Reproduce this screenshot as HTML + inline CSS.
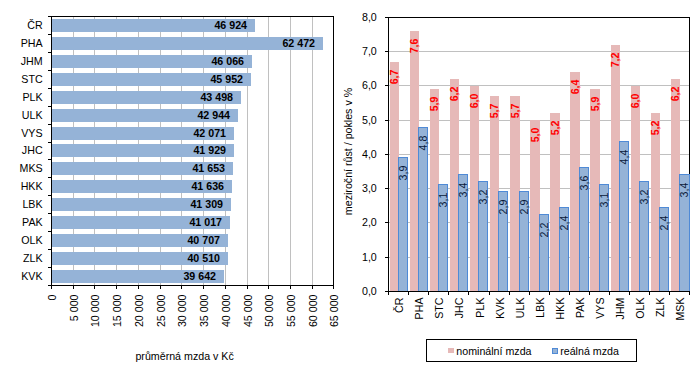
<!DOCTYPE html>
<html><head><meta charset="utf-8"><style>
html,body{margin:0;padding:0;background:#fff;}
body{width:697px;height:374px;overflow:hidden;}
svg{display:block;}
text{font-family:"Liberation Sans", sans-serif;font-size:10.67px;}
.r{fill:#000;}
.b{fill:#000;font-weight:bold;}
.bred{fill:#FF0000;font-weight:bold;}
.rnavy{fill:#0A1A3A;}
</style></head><body>
<svg width="697" height="374" viewBox="0 0 697 374">
<rect width="697" height="374" fill="#fff"/>
<rect x="73" y="16" width="1" height="269" fill="#C0C0C0"/>
<rect x="94" y="16" width="1" height="269" fill="#C0C0C0"/>
<rect x="116" y="16" width="1" height="269" fill="#C0C0C0"/>
<rect x="138" y="16" width="1" height="269" fill="#C0C0C0"/>
<rect x="160" y="16" width="1" height="269" fill="#C0C0C0"/>
<rect x="181" y="16" width="1" height="269" fill="#C0C0C0"/>
<rect x="203" y="16" width="1" height="269" fill="#C0C0C0"/>
<rect x="225" y="16" width="1" height="269" fill="#C0C0C0"/>
<rect x="247" y="16" width="1" height="269" fill="#C0C0C0"/>
<rect x="268" y="16" width="1" height="269" fill="#C0C0C0"/>
<rect x="290" y="16" width="1" height="269" fill="#C0C0C0"/>
<rect x="312" y="16" width="1" height="269" fill="#C0C0C0"/>
<rect x="52" y="19" width="203" height="13" fill="#95B3D7"/>
<text x="247.00" y="29.20" text-anchor="end" class="b">46 924</text>
<text x="42.6" y="29.20" text-anchor="end" class="r">ČR</text>
<rect x="52" y="37" width="271" height="13" fill="#95B3D7"/>
<text x="315.00" y="47.20" text-anchor="end" class="b">62 472</text>
<text x="42.6" y="47.20" text-anchor="end" class="r">PHA</text>
<rect x="52" y="55" width="200" height="13" fill="#95B3D7"/>
<text x="244.00" y="65.20" text-anchor="end" class="b">46 066</text>
<text x="42.6" y="65.20" text-anchor="end" class="r">JHM</text>
<rect x="52" y="73" width="199" height="13" fill="#95B3D7"/>
<text x="243.00" y="83.20" text-anchor="end" class="b">45 952</text>
<text x="42.6" y="83.20" text-anchor="end" class="r">STC</text>
<rect x="52" y="91" width="189" height="13" fill="#95B3D7"/>
<text x="233.00" y="101.20" text-anchor="end" class="b">43 498</text>
<text x="42.6" y="101.20" text-anchor="end" class="r">PLK</text>
<rect x="52" y="109" width="186" height="13" fill="#95B3D7"/>
<text x="230.00" y="119.20" text-anchor="end" class="b">42 944</text>
<text x="42.6" y="119.20" text-anchor="end" class="r">ULK</text>
<rect x="52" y="127" width="182" height="13" fill="#95B3D7"/>
<text x="226.00" y="137.20" text-anchor="end" class="b">42 071</text>
<text x="42.6" y="137.20" text-anchor="end" class="r">VYS</text>
<rect x="52" y="144" width="182" height="13" fill="#95B3D7"/>
<text x="226.00" y="154.20" text-anchor="end" class="b">41 929</text>
<text x="42.6" y="154.20" text-anchor="end" class="r">JHC</text>
<rect x="52" y="162" width="181" height="13" fill="#95B3D7"/>
<text x="225.00" y="172.20" text-anchor="end" class="b">41 653</text>
<text x="42.6" y="172.20" text-anchor="end" class="r">MKS</text>
<rect x="52" y="180" width="180" height="13" fill="#95B3D7"/>
<text x="224.00" y="190.20" text-anchor="end" class="b">41 636</text>
<text x="42.6" y="190.20" text-anchor="end" class="r">HKK</text>
<rect x="52" y="198" width="179" height="13" fill="#95B3D7"/>
<text x="223.00" y="208.20" text-anchor="end" class="b">41 309</text>
<text x="42.6" y="208.20" text-anchor="end" class="r">LBK</text>
<rect x="52" y="216" width="178" height="13" fill="#95B3D7"/>
<text x="222.00" y="226.20" text-anchor="end" class="b">41 017</text>
<text x="42.6" y="226.20" text-anchor="end" class="r">PAK</text>
<rect x="52" y="234" width="176" height="13" fill="#95B3D7"/>
<text x="220.00" y="244.20" text-anchor="end" class="b">40 707</text>
<text x="42.6" y="244.20" text-anchor="end" class="r">OLK</text>
<rect x="52" y="252" width="176" height="13" fill="#95B3D7"/>
<text x="220.00" y="262.20" text-anchor="end" class="b">40 510</text>
<text x="42.6" y="262.20" text-anchor="end" class="r">ZLK</text>
<rect x="52" y="270" width="172" height="13" fill="#95B3D7"/>
<text x="216.00" y="280.20" text-anchor="end" class="b">39 642</text>
<text x="42.6" y="280.20" text-anchor="end" class="r">KVK</text>
<rect x="51" y="16" width="283" height="1" fill="#000"/>
<rect x="333" y="16" width="1" height="270" fill="#000"/>
<rect x="51" y="285" width="283" height="1" fill="#000"/>
<rect x="51" y="16" width="1" height="270" fill="#000"/>
<rect x="48" y="16" width="3" height="1" fill="#000"/>
<rect x="48" y="34" width="3" height="1" fill="#000"/>
<rect x="48" y="52" width="3" height="1" fill="#000"/>
<rect x="48" y="70" width="3" height="1" fill="#000"/>
<rect x="48" y="88" width="3" height="1" fill="#000"/>
<rect x="48" y="106" width="3" height="1" fill="#000"/>
<rect x="48" y="124" width="3" height="1" fill="#000"/>
<rect x="48" y="142" width="3" height="1" fill="#000"/>
<rect x="48" y="159" width="3" height="1" fill="#000"/>
<rect x="48" y="177" width="3" height="1" fill="#000"/>
<rect x="48" y="195" width="3" height="1" fill="#000"/>
<rect x="48" y="213" width="3" height="1" fill="#000"/>
<rect x="48" y="231" width="3" height="1" fill="#000"/>
<rect x="48" y="249" width="3" height="1" fill="#000"/>
<rect x="48" y="267" width="3" height="1" fill="#000"/>
<rect x="48" y="285" width="3" height="1" fill="#000"/>
<rect x="51" y="285" width="1" height="4" fill="#000"/>
<text transform="translate(55.60,294.5) rotate(-90)" text-anchor="end" class="r">0</text>
<rect x="73" y="285" width="1" height="4" fill="#000"/>
<text transform="translate(77.60,294.5) rotate(-90)" text-anchor="end" class="r">5 000</text>
<rect x="94" y="285" width="1" height="4" fill="#000"/>
<text transform="translate(98.60,294.5) rotate(-90)" text-anchor="end" class="r">10 000</text>
<rect x="116" y="285" width="1" height="4" fill="#000"/>
<text transform="translate(120.60,294.5) rotate(-90)" text-anchor="end" class="r">15 000</text>
<rect x="138" y="285" width="1" height="4" fill="#000"/>
<text transform="translate(142.60,294.5) rotate(-90)" text-anchor="end" class="r">20 000</text>
<rect x="160" y="285" width="1" height="4" fill="#000"/>
<text transform="translate(164.60,294.5) rotate(-90)" text-anchor="end" class="r">25 000</text>
<rect x="181" y="285" width="1" height="4" fill="#000"/>
<text transform="translate(185.60,294.5) rotate(-90)" text-anchor="end" class="r">30 000</text>
<rect x="203" y="285" width="1" height="4" fill="#000"/>
<text transform="translate(207.60,294.5) rotate(-90)" text-anchor="end" class="r">35 000</text>
<rect x="225" y="285" width="1" height="4" fill="#000"/>
<text transform="translate(229.60,294.5) rotate(-90)" text-anchor="end" class="r">40 000</text>
<rect x="247" y="285" width="1" height="4" fill="#000"/>
<text transform="translate(251.60,294.5) rotate(-90)" text-anchor="end" class="r">45 000</text>
<rect x="268" y="285" width="1" height="4" fill="#000"/>
<text transform="translate(272.60,294.5) rotate(-90)" text-anchor="end" class="r">50 000</text>
<rect x="290" y="285" width="1" height="4" fill="#000"/>
<text transform="translate(294.60,294.5) rotate(-90)" text-anchor="end" class="r">55 000</text>
<rect x="312" y="285" width="1" height="4" fill="#000"/>
<text transform="translate(316.60,294.5) rotate(-90)" text-anchor="end" class="r">60 000</text>
<rect x="333" y="285" width="1" height="4" fill="#000"/>
<text transform="translate(337.60,294.5) rotate(-90)" text-anchor="end" class="r">65 000</text>
<text x="184.6" y="359.8" text-anchor="middle" class="r">průměrná mzda v Kč</text>
<rect x="388" y="257" width="301" height="1" fill="#C0C0C0"/>
<rect x="388" y="222" width="301" height="1" fill="#C0C0C0"/>
<rect x="388" y="188" width="301" height="1" fill="#C0C0C0"/>
<rect x="388" y="154" width="301" height="1" fill="#C0C0C0"/>
<rect x="388" y="120" width="301" height="1" fill="#C0C0C0"/>
<rect x="388" y="85" width="301" height="1" fill="#C0C0C0"/>
<rect x="388" y="51" width="301" height="1" fill="#C0C0C0"/>
<rect x="390" y="62" width="9" height="229" fill="#E6B9B8"/>
<rect x="398" y="157" width="10" height="134" fill="#4F8AD6"/>
<rect x="399" y="158" width="8" height="133" fill="#95B3D7"/>
<rect x="410" y="31" width="9" height="260" fill="#E6B9B8"/>
<rect x="418" y="127" width="10" height="164" fill="#4F8AD6"/>
<rect x="419" y="128" width="8" height="163" fill="#95B3D7"/>
<rect x="430" y="89" width="9" height="202" fill="#E6B9B8"/>
<rect x="438" y="184" width="10" height="107" fill="#4F8AD6"/>
<rect x="439" y="185" width="8" height="106" fill="#95B3D7"/>
<rect x="450" y="79" width="9" height="212" fill="#E6B9B8"/>
<rect x="458" y="174" width="10" height="117" fill="#4F8AD6"/>
<rect x="459" y="175" width="8" height="116" fill="#95B3D7"/>
<rect x="470" y="86" width="9" height="205" fill="#E6B9B8"/>
<rect x="478" y="181" width="10" height="110" fill="#4F8AD6"/>
<rect x="479" y="182" width="8" height="109" fill="#95B3D7"/>
<rect x="490" y="96" width="9" height="195" fill="#E6B9B8"/>
<rect x="498" y="191" width="10" height="100" fill="#4F8AD6"/>
<rect x="499" y="192" width="8" height="99" fill="#95B3D7"/>
<rect x="510" y="96" width="10" height="195" fill="#E6B9B8"/>
<rect x="519" y="191" width="10" height="100" fill="#4F8AD6"/>
<rect x="520" y="192" width="8" height="99" fill="#95B3D7"/>
<rect x="530" y="120" width="10" height="171" fill="#E6B9B8"/>
<rect x="539" y="214" width="10" height="77" fill="#4F8AD6"/>
<rect x="540" y="215" width="8" height="76" fill="#95B3D7"/>
<rect x="550" y="113" width="10" height="178" fill="#E6B9B8"/>
<rect x="559" y="207" width="10" height="84" fill="#4F8AD6"/>
<rect x="560" y="208" width="8" height="83" fill="#95B3D7"/>
<rect x="570" y="72" width="10" height="219" fill="#E6B9B8"/>
<rect x="579" y="167" width="10" height="124" fill="#4F8AD6"/>
<rect x="580" y="168" width="8" height="123" fill="#95B3D7"/>
<rect x="590" y="89" width="10" height="202" fill="#E6B9B8"/>
<rect x="599" y="184" width="10" height="107" fill="#4F8AD6"/>
<rect x="600" y="185" width="8" height="106" fill="#95B3D7"/>
<rect x="611" y="45" width="9" height="246" fill="#E6B9B8"/>
<rect x="619" y="141" width="10" height="150" fill="#4F8AD6"/>
<rect x="620" y="142" width="8" height="149" fill="#95B3D7"/>
<rect x="631" y="86" width="9" height="205" fill="#E6B9B8"/>
<rect x="639" y="181" width="10" height="110" fill="#4F8AD6"/>
<rect x="640" y="182" width="8" height="109" fill="#95B3D7"/>
<rect x="651" y="113" width="9" height="178" fill="#E6B9B8"/>
<rect x="659" y="207" width="10" height="84" fill="#4F8AD6"/>
<rect x="660" y="208" width="8" height="83" fill="#95B3D7"/>
<rect x="671" y="79" width="9" height="212" fill="#E6B9B8"/>
<rect x="679" y="174" width="11" height="117" fill="#4F8AD6"/>
<rect x="680" y="175" width="9" height="116" fill="#95B3D7"/>
<rect x="388" y="17" width="302" height="1" fill="#000"/>
<rect x="689" y="17" width="1" height="274" fill="#000"/>
<rect x="388" y="291" width="302" height="1" fill="#000"/>
<rect x="388" y="17" width="1" height="275" fill="#000"/>
<rect x="689" y="174" width="1" height="117" fill="#4F8AD6"/>
<text transform="translate(398.10,69.50) rotate(-90)" text-anchor="end" class="bred">6,7</text>
<text transform="translate(406.80,165.60) rotate(-90)" text-anchor="end" class="rnavy">3,9</text>
<text transform="translate(403.10,297.5) rotate(-90)" text-anchor="end" class="r">ČR</text>
<text transform="translate(418.10,38.50) rotate(-90)" text-anchor="end" class="bred">7,6</text>
<text transform="translate(426.80,135.60) rotate(-90)" text-anchor="end" class="rnavy">4,8</text>
<text transform="translate(423.10,297.5) rotate(-90)" text-anchor="end" class="r">PHA</text>
<text transform="translate(438.10,96.50) rotate(-90)" text-anchor="end" class="bred">5,9</text>
<text transform="translate(446.80,192.60) rotate(-90)" text-anchor="end" class="rnavy">3,1</text>
<text transform="translate(443.10,297.5) rotate(-90)" text-anchor="end" class="r">STC</text>
<text transform="translate(458.10,86.50) rotate(-90)" text-anchor="end" class="bred">6,2</text>
<text transform="translate(466.80,182.60) rotate(-90)" text-anchor="end" class="rnavy">3,4</text>
<text transform="translate(463.10,297.5) rotate(-90)" text-anchor="end" class="r">JHC</text>
<text transform="translate(478.10,93.50) rotate(-90)" text-anchor="end" class="bred">6,0</text>
<text transform="translate(486.80,189.60) rotate(-90)" text-anchor="end" class="rnavy">3,2</text>
<text transform="translate(483.60,297.5) rotate(-90)" text-anchor="end" class="r">PLK</text>
<text transform="translate(498.10,103.50) rotate(-90)" text-anchor="end" class="bred">5,7</text>
<text transform="translate(506.80,199.60) rotate(-90)" text-anchor="end" class="rnavy">2,9</text>
<text transform="translate(504.10,297.5) rotate(-90)" text-anchor="end" class="r">KVK</text>
<text transform="translate(518.60,103.50) rotate(-90)" text-anchor="end" class="bred">5,7</text>
<text transform="translate(527.80,199.60) rotate(-90)" text-anchor="end" class="rnavy">2,9</text>
<text transform="translate(524.10,297.5) rotate(-90)" text-anchor="end" class="r">ULK</text>
<text transform="translate(538.60,127.50) rotate(-90)" text-anchor="end" class="bred">5,0</text>
<text transform="translate(547.80,222.60) rotate(-90)" text-anchor="end" class="rnavy">2,2</text>
<text transform="translate(544.10,297.5) rotate(-90)" text-anchor="end" class="r">LBK</text>
<text transform="translate(558.60,120.50) rotate(-90)" text-anchor="end" class="bred">5,2</text>
<text transform="translate(567.80,215.60) rotate(-90)" text-anchor="end" class="rnavy">2,4</text>
<text transform="translate(564.10,297.5) rotate(-90)" text-anchor="end" class="r">HKK</text>
<text transform="translate(578.60,79.50) rotate(-90)" text-anchor="end" class="bred">6,4</text>
<text transform="translate(587.80,175.60) rotate(-90)" text-anchor="end" class="rnavy">3,6</text>
<text transform="translate(584.10,297.5) rotate(-90)" text-anchor="end" class="r">PAK</text>
<text transform="translate(598.60,96.50) rotate(-90)" text-anchor="end" class="bred">5,9</text>
<text transform="translate(607.80,192.60) rotate(-90)" text-anchor="end" class="rnavy">3,1</text>
<text transform="translate(604.10,297.5) rotate(-90)" text-anchor="end" class="r">VYS</text>
<text transform="translate(619.10,52.50) rotate(-90)" text-anchor="end" class="bred">7,2</text>
<text transform="translate(627.80,149.60) rotate(-90)" text-anchor="end" class="rnavy">4,4</text>
<text transform="translate(624.10,297.5) rotate(-90)" text-anchor="end" class="r">JHM</text>
<text transform="translate(639.10,93.50) rotate(-90)" text-anchor="end" class="bred">6,0</text>
<text transform="translate(647.80,189.60) rotate(-90)" text-anchor="end" class="rnavy">3,2</text>
<text transform="translate(644.10,297.5) rotate(-90)" text-anchor="end" class="r">OLK</text>
<text transform="translate(659.10,120.50) rotate(-90)" text-anchor="end" class="bred">5,2</text>
<text transform="translate(667.80,215.60) rotate(-90)" text-anchor="end" class="rnavy">2,4</text>
<text transform="translate(664.10,297.5) rotate(-90)" text-anchor="end" class="r">ZLK</text>
<text transform="translate(679.10,86.50) rotate(-90)" text-anchor="end" class="bred">6,2</text>
<text transform="translate(688.30,182.60) rotate(-90)" text-anchor="end" class="rnavy">3,4</text>
<text transform="translate(684.10,297.5) rotate(-90)" text-anchor="end" class="r">MSK</text>
<rect x="385" y="291" width="3" height="1" fill="#000"/>
<text x="376.8" y="295.3" text-anchor="end" class="r">0,0</text>
<rect x="385" y="257" width="3" height="1" fill="#000"/>
<text x="376.8" y="261.3" text-anchor="end" class="r">1,0</text>
<rect x="385" y="222" width="3" height="1" fill="#000"/>
<text x="376.8" y="226.3" text-anchor="end" class="r">2,0</text>
<rect x="385" y="188" width="3" height="1" fill="#000"/>
<text x="376.8" y="192.3" text-anchor="end" class="r">3,0</text>
<rect x="385" y="154" width="3" height="1" fill="#000"/>
<text x="376.8" y="158.3" text-anchor="end" class="r">4,0</text>
<rect x="385" y="120" width="3" height="1" fill="#000"/>
<text x="376.8" y="124.3" text-anchor="end" class="r">5,0</text>
<rect x="385" y="85" width="3" height="1" fill="#000"/>
<text x="376.8" y="89.3" text-anchor="end" class="r">6,0</text>
<rect x="385" y="51" width="3" height="1" fill="#000"/>
<text x="376.8" y="55.3" text-anchor="end" class="r">7,0</text>
<rect x="385" y="17" width="3" height="1" fill="#000"/>
<text x="376.8" y="21.3" text-anchor="end" class="r">8,0</text>
<rect x="388" y="291" width="1" height="4" fill="#000"/>
<rect x="408" y="291" width="1" height="4" fill="#000"/>
<rect x="428" y="291" width="1" height="4" fill="#000"/>
<rect x="448" y="291" width="1" height="4" fill="#000"/>
<rect x="468" y="291" width="1" height="4" fill="#000"/>
<rect x="489" y="291" width="1" height="4" fill="#000"/>
<rect x="509" y="291" width="1" height="4" fill="#000"/>
<rect x="529" y="291" width="1" height="4" fill="#000"/>
<rect x="549" y="291" width="1" height="4" fill="#000"/>
<rect x="569" y="291" width="1" height="4" fill="#000"/>
<rect x="589" y="291" width="1" height="4" fill="#000"/>
<rect x="609" y="291" width="1" height="4" fill="#000"/>
<rect x="629" y="291" width="1" height="4" fill="#000"/>
<rect x="649" y="291" width="1" height="4" fill="#000"/>
<rect x="669" y="291" width="1" height="4" fill="#000"/>
<rect x="689" y="291" width="1" height="4" fill="#000"/>
<text transform="translate(352,151.5) rotate(-90)" text-anchor="middle" class="r">meziroční růst / pokles v %</text>
<rect x="426.5" y="339.5" width="210" height="22" fill="none" stroke="#000" stroke-width="1"/>
<rect x="448" y="348" width="6" height="5" fill="#E6B9B8"/>
<text x="456.3" y="354.7" class="r">nominální mzda</text>
<rect x="552" y="348" width="6" height="6" fill="#4F8AD6"/>
<rect x="553" y="349" width="4" height="4" fill="#95B3D7"/>
<text x="560.2" y="354.7" class="r">reálná mzda</text>
</svg>
</body></html>
